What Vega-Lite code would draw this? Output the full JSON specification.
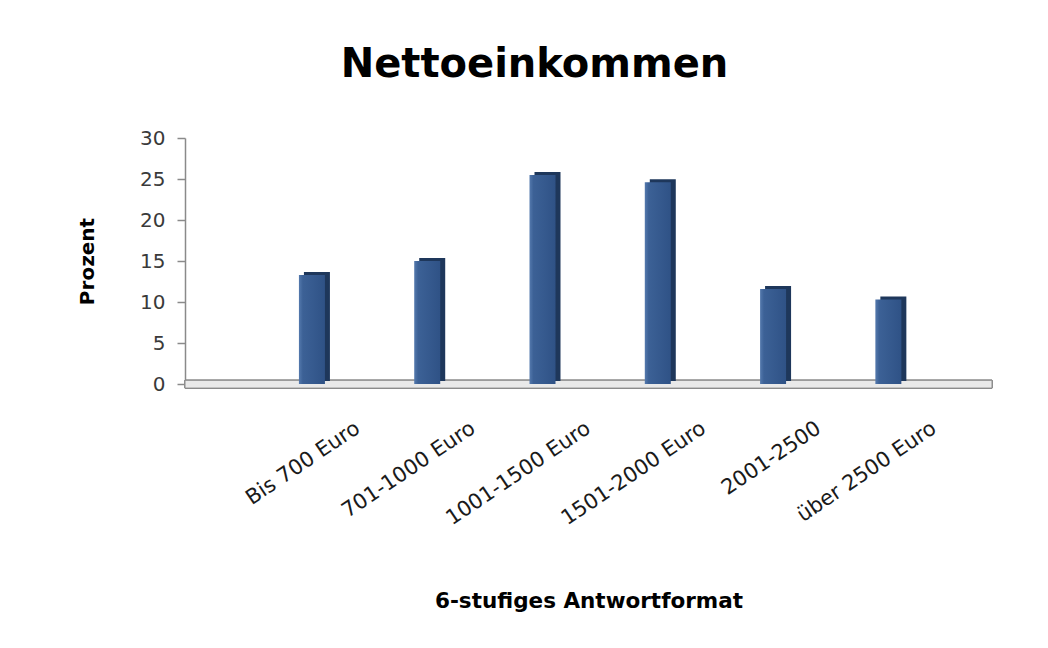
{
  "$schema": "https://vega.github.io/schema/vega-lite/v6.json",
  "autosize": {"type": "none"},
  "width": 807,
  "height": 246,
  "padding": {"left": 185, "top": 138, "right": 56, "bottom": 264},
  "background": "white",
  "title": {
    "text": "Nettoeinkommen",
    "font": "DejaVu Sans",
    "fontSize": 40,
    "fontWeight": "bold",
    "color": "#000000",
    "anchor": "middle",
    "dx": -54,
    "offset": 43
  },
  "data": {
    "values": [
      {"Kategorie": "Bis 700 Euro", "Prozent": 13.3},
      {"Kategorie": "701-1000 Euro", "Prozent": 15.0},
      {"Kategorie": "1001-1500 Euro", "Prozent": 25.5},
      {"Kategorie": "1501-2000 Euro", "Prozent": 24.6},
      {"Kategorie": "2001-2500", "Prozent": 11.6},
      {"Kategorie": "über 2500 Euro", "Prozent": 10.3}
    ]
  },
  "encoding": {
    "x": {
      "field": "Kategorie",
      "type": "nominal",
      "sort": null,
      "scale": {
        "domain": ["", "Bis 700 Euro", "701-1000 Euro", "1001-1500 Euro", "1501-2000 Euro", "2001-2500", "über 2500 Euro"],
        "paddingInner": 0,
        "paddingOuter": 0
      },
      "axis": {
        "title": "6-stufiges Antwortformat",
        "titleFont": "DejaVu Sans",
        "titleFontSize": 21.5,
        "titleFontWeight": "bold",
        "titleColor": "#000000",
        "titlePadding": 62,
        "labelFont": "DejaVu Sans",
        "labelFontSize": 21,
        "labelColor": "#1a1a1a",
        "labelAngle": -34,
        "labelAlign": "right",
        "labelBaseline": "middle",
        "labelPadding": 42,
        "labelDx": 3,
        "ticks": false,
        "domain": false,
        "grid": false
      }
    },
    "y": {
      "field": "Prozent",
      "type": "quantitative",
      "scale": {"domain": [0, 30], "nice": false},
      "axis": {
        "title": "Prozent",
        "titleFont": "DejaVu Sans",
        "titleFontSize": 20,
        "titleFontWeight": "bold",
        "titleColor": "#000000",
        "titlePadding": 42,
        "labelFont": "DejaVu Sans",
        "labelFontSize": 20,
        "labelColor": "#3a3a3a",
        "labelPadding": 12,
        "values": [0, 5, 10, 15, 20, 25, 30],
        "tickSize": 8,
        "tickColor": "#8a8a8a",
        "domainColor": "#8a8a8a",
        "tickWidth": 1.5,
        "domainWidth": 1.5,
        "grid": false
      }
    }
  },
  "layer": [
    {
      "mark": {"type": "rect", "fill": "#e9e9e9", "stroke": "#8c8c8c", "strokeWidth": 1},
      "encoding": {
        "x": null,
        "y": {"datum": 0.45, "type": "quantitative"},
        "y2": {"datum": -0.5}
      }
    },
    {
      "mark": {"type": "bar", "width": 26, "xOffset": -41, "yOffset": -3, "color": "#1e375b"}
    },
    {
      "mark": {
        "type": "bar",
        "width": 26,
        "xOffset": -46,
        "color": {
          "gradient": "linear",
          "x1": 0, "y1": 0, "x2": 1, "y2": 0,
          "stops": [
            {"offset": 0, "color": "#5479ad"},
            {"offset": 0.15, "color": "#3c6196"},
            {"offset": 1, "color": "#2f5286"}
          ]
        }
      }
    }
  ],
  "config": {"view": {"stroke": null}}
}
